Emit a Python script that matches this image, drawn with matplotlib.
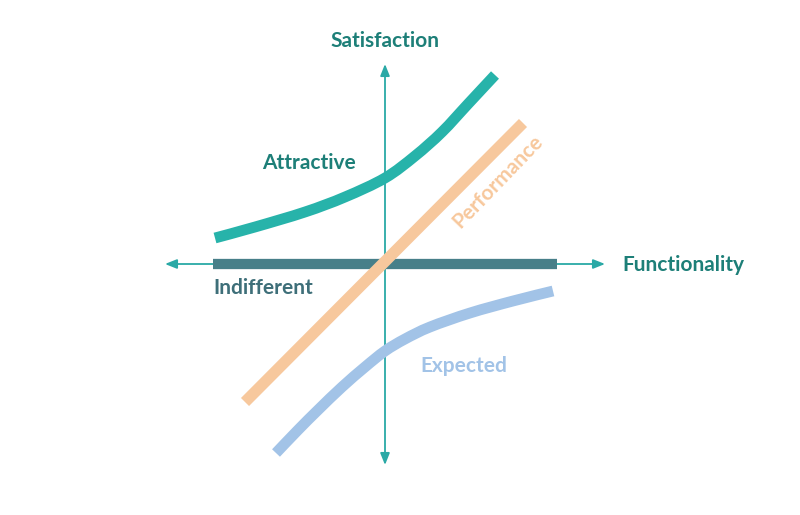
import numpy as np
import matplotlib.pyplot as plt
from matplotlib.path import Path
from matplotlib.patches import PathPatch

# Kano model curves, in chart units (origin where the axes cross)
attractive_x = [-1.70, -1.30, -0.80, -0.40, 0.0, 0.30, 0.57, 0.83, 1.10]
attractive_y = [0.26, 0.37, 0.52, 0.67, 0.86, 1.08, 1.32, 1.60, 1.89]

expected_x = [-1.09, -0.87, -0.67, -0.43, -0.20, 0.0, 0.20, 0.45, 0.85, 1.28, 1.68]
expected_y = [-1.89, -1.66, -1.46, -1.23, -1.03, -0.87, -0.75, -0.63, -0.49, -0.37, -0.27]

performance_x = [-1.40, 1.38]
performance_y = [-1.38, 1.41]

indifferent_x = [-1.72, 1.72]
indifferent_y = [0.0, 0.0]

teal = "#27b3aa"
teal_text = "#1d7f78"
axis_col = "#2aa9a6"
slate = "#477f89"
slate_text = "#3e6f79"
peach = "#f7c89d"
blue = "#a2c3e7"

plt.rcParams["font.family"] = ["Lato", "DejaVu Sans"]


def smooth_path(xs, ys):
    # catmull-rom through the points, drawn as cubic bezier segments
    p = np.column_stack([xs, ys])
    verts = [p[0]]
    codes = [Path.MOVETO]
    for i in range(len(p) - 1):
        p0 = p[i - 1] if i > 0 else p[i]
        p3 = p[i + 2] if i + 2 < len(p) else p[i + 1]
        c1 = p[i] + (p[i + 1] - p0) / 6
        c2 = p[i + 1] - (p3 - p[i]) / 6
        verts += [c1, c2, p[i + 1]]
        codes += [Path.CURVE4] * 3
    return Path(verts, codes)


fig = plt.figure(figsize=(8, 5.15), dpi=100)
ax = fig.add_axes([0, 0, 1, 1])
ax.set_xlim(-3.85, 4.15)
ax.set_ylim(-2.51, 2.64)
ax.axis("off")

# axes with arrows
arr = dict(arrowstyle="<|-|>,head_length=0.7,head_width=0.28", color=axis_col,
           lw=1.3, shrinkA=0, shrinkB=0)
ax.annotate("", xy=(2.20, 0), xytext=(-2.20, 0), arrowprops=arr, zorder=1)
ax.annotate("", xy=(0, 2.00), xytext=(0, -2.01), arrowprops=arr, zorder=1)

lw = 7.8
ax.plot(indifferent_x, indifferent_y, color=slate, lw=7.4, solid_capstyle="butt", zorder=2)
ax.add_patch(PathPatch(smooth_path(attractive_x, attractive_y), fill=False,
                       edgecolor=teal, lw=lw, capstyle="butt", zorder=3))
ax.plot(performance_x, performance_y, color=peach, lw=8.2, solid_capstyle="butt", zorder=3)
ax.add_patch(PathPatch(smooth_path(expected_x, expected_y), fill=False,
                       edgecolor=blue, lw=lw, capstyle="butt", zorder=3))

fs = 15
ax.text(0, 2.23, "Satisfaction", color=teal_text, fontsize=fs, fontweight="bold",
        ha="center", va="center")
ax.text(2.37, -0.01, "Functionality", color=teal_text, fontsize=fs, fontweight="bold",
        ha="left", va="center")
ax.text(-1.23, 1.01, "Attractive", color=teal_text, fontsize=fs, fontweight="bold",
        ha="left", va="center")
ax.text(-1.72, -0.24, "Indifferent", color=slate_text, fontsize=fs, fontweight="bold",
        ha="left", va="center")
ax.text(0.35, -1.02, "Expected", color=blue, fontsize=fs, fontweight="bold",
        ha="left", va="center")
ax.text(1.13, 0.83, "Performance", color=peach, fontsize=fs, fontweight="bold",
        ha="center", va="center", rotation=46, rotation_mode="anchor")

fig.savefig("out.png", dpi=100, facecolor="white")
